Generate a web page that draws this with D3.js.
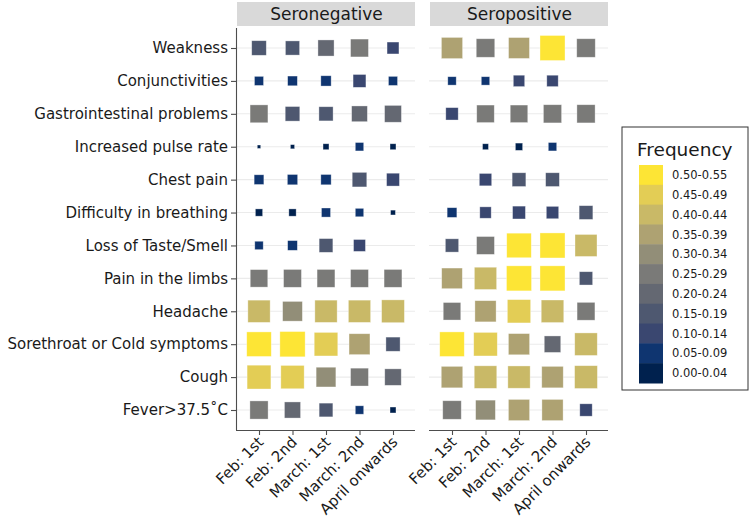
<!DOCTYPE html>
<html><head><meta charset="utf-8">
<script src="https://cdn.jsdelivr.net/npm/d3@7"></script>
<style>
html,body{margin:0;padding:0;background:#fff;}
svg{display:block;font-family:"DejaVu Sans",sans-serif;}
</style></head>
<body>
<svg id="chart" width="750" height="522"></svg>
<script>
// ---- data ----
const symptoms = ["Weakness","Conjunctivities","Gastrointestinal problems","Increased pulse rate","Chest pain","Difficulty in breathing","Loss of Taste/Smell","Pain in the limbs","Headache","Sorethroat or Cold symptoms","Cough","Fever>37.5˚C"];
const periods = ["Feb: 1st","Feb: 2nd","March: 1st","March: 2nd","April onwards"];
const groups = ["Seronegative","Seropositive"];
// values per symptom (rows) x period (cols); null = not observed
const seronegative = [
  [0.18,0.17,0.22,0.27,0.12],
  [0.07,0.08,0.09,0.14,0.07],
  [0.27,0.18,0.17,0.21,0.24],
  [0.01,0.015,0.03,0.06,0.03],
  [0.08,0.09,0.09,0.18,0.14],
  [0.045,0.045,0.07,0.06,0.02],
  [0.06,0.08,0.16,0.12,null],
  [0.26,0.27,0.27,0.27,0.27],
  [0.42,0.33,0.42,0.42,0.44],
  [0.51,0.54,0.47,0.37,0.17],
  [0.48,0.46,0.33,0.27,0.23],
  [0.28,0.22,0.16,0.06,0.03]
];
const seropositive = [
  [0.38,0.29,0.37,0.53,0.29],
  [0.06,0.06,0.11,0.11,null],
  [0.13,0.26,0.26,0.28,0.28],
  [null,0.03,0.045,0.06,null],
  [null,0.13,0.16,0.16,null],
  [0.08,0.11,0.14,0.13,0.16],
  [0.15,0.27,0.51,0.53,0.41],
  [0.36,0.42,0.53,0.53,0.15],
  [0.26,0.38,0.46,0.43,0.27],
  [0.51,0.47,0.38,0.23,0.43],
  [0.39,0.43,0.42,0.39,0.44],
  [0.29,0.33,0.38,0.38,0.13]
];
const legendLabels = ["0.50-0.55","0.45-0.49","0.40-0.44","0.35-0.39","0.30-0.34","0.25-0.29","0.20-0.24","0.15-0.19","0.10-0.14","0.05-0.09","0.00-0.04"];
const binBreaks = [0.05,0.10,0.15,0.20,0.25,0.30,0.35,0.40,0.45,0.50];
const binColors = ["#00214E","#0F3570","#3A4770","#4E5870","#646872","#7A7A78","#928E78","#AEA272","#C9B967","#E3CD55","#FDE535"];

// ---- scales ----
const svg = d3.select("#chart");
const color = d3.scaleThreshold().domain(binBreaks).range(binColors);
const size = d3.scaleSqrt().domain([0,0.55]).range([0,25.5]);
const y = d3.scalePoint().domain(symptoms).range([48,410]);
const panelTop = 28, panelBottom = 430;
const panels = [
  {name:groups[0], data:seronegative, x0:236, x1:415, xr:[259,393]},
  {name:groups[1], data:seropositive, x0:429, x1:608, xr:[452,586]}
];
const textCol = "#1A1A1A", axisCol = "#4D4D4D";

panels.forEach((p,pi)=>{
  const x = d3.scalePoint().domain(periods).range(p.xr);
  const g = svg.append("g");
  // strip
  g.append("rect").attr("x",p.x0+1).attr("y",2).attr("width",p.x1-p.x0-1).attr("height",24)
    .attr("fill","#D9D9D9");
  g.append("text").attr("x",(p.x0+p.x1)/2+1).attr("y",20).attr("text-anchor","middle")
    .attr("font-size",17).attr("fill",textCol).text(p.name);
  // gridlines
  g.selectAll("line.grid").data(symptoms).join("line").attr("class","grid")
    .attr("x1",p.x0).attr("x2",p.x1).attr("y1",d=>y(d)).attr("y2",d=>y(d))
    .attr("stroke","#EBEBEB").attr("stroke-width",1.1);
  // cells
  const cells = [];
  p.data.forEach((row,ri)=>row.forEach((v,ci)=>{ if(v!=null) cells.push({s:symptoms[ri],t:periods[ci],v}); }));
  g.selectAll("rect.cell").data(cells).join("rect").attr("class","cell")
    .attr("x",d=>x(d.t)-size(d.v)/2).attr("y",d=>y(d.s)-size(d.v)/2)
    .attr("width",d=>size(d.v)).attr("height",d=>size(d.v))
    .attr("fill",d=>color(d.v)).attr("stroke","#ffffff").attr("stroke-opacity",0.5).attr("stroke-width",0.7);
  // x axis
  const xa = g.append("g").attr("transform",`translate(0,${panelBottom})`)
    .call(d3.axisBottom(x).tickSize(5).tickSizeOuter(0));
  xa.select(".domain").attr("d",`M${p.x0},0.5H${p.x1}`).attr("stroke",axisCol).attr("stroke-width",1.1);
  xa.selectAll(".tick line").attr("stroke",axisCol).attr("stroke-width",1.1);
  xa.selectAll(".tick text").attr("font-family","DejaVu Sans, sans-serif").attr("font-size",15).attr("fill",textCol)
    .attr("text-anchor","end").attr("dy",null).attr("y",null)
    .attr("transform","translate(5,13) rotate(-45)");
  // y axis (left panel only)
  if(pi===0){
    const ya = g.append("g").attr("transform",`translate(${p.x0},0)`)
      .call(d3.axisLeft(y).tickSize(5).tickSizeOuter(0).tickPadding(3));
    ya.select(".domain").attr("d",`M0.5,${panelTop}V${panelBottom}`).attr("stroke",axisCol).attr("stroke-width",1.1);
    ya.selectAll(".tick line").attr("stroke",axisCol).attr("stroke-width",1.1);
    ya.selectAll(".tick text").attr("font-family","DejaVu Sans, sans-serif").attr("font-size",15).attr("fill",textCol);
  }
});

// ---- legend ----
const lg = svg.append("g");
lg.append("rect").attr("x",622).attr("y",127).attr("width",126).attr("height",263)
  .attr("fill","#fff").attr("stroke","#333").attr("stroke-width",1);
lg.append("text").attr("x",637).attr("y",156).attr("font-size",18.5).attr("fill",textCol).text("Frequency");
const ly = d3.scaleBand().domain(legendLabels).range([165,383]);
const legColors = binColors.slice().reverse();
lg.selectAll("rect.key").data(legendLabels).join("rect").attr("class","key")
  .attr("x",639).attr("y",d=>ly(d)).attr("width",24).attr("height",ly.bandwidth()+0.5)
  .attr("fill",(d,i)=>legColors[i]);
lg.selectAll("text.lab").data(legendLabels).join("text").attr("class","lab")
  .attr("x",672).attr("y",d=>ly(d)+ly.bandwidth()/2).attr("dy","0.36em")
  .attr("font-size",11.5).attr("fill",textCol).text(d=>d);
</script>
</body></html>
